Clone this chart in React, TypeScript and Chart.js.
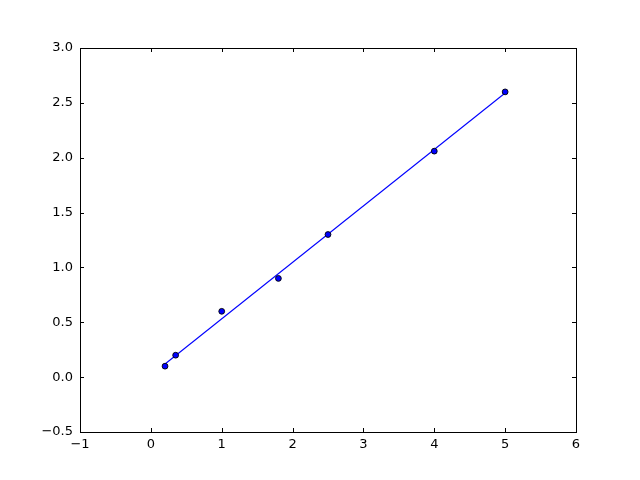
import React, { useEffect, useRef } from "react";
import { Chart, registerables } from "chart.js";

Chart.register(...registerables);

const pointX = [0.2, 0.35, 1, 1.8, 2.5, 4, 5];
const pointY = [0.1, 0.2, 0.6, 0.9, 1.3, 2.06, 2.6];
const fitX = [0.2, 5];
const fitY = [0.12, 2.59];
const xTicks = [-1, 0, 1, 2, 3, 4, 5, 6];
const yTicks = [-0.5, 0, 0.5, 1, 1.5, 2, 2.5, 3];

const FONT = "'DejaVu Sans', sans-serif";

const fmtX = (v: number) => String(v).replace("-", "\u2212");
const fmtY = (v: number) => v.toFixed(1).replace("-", "\u2212");

const boxPlugin = {
  id: "mplBox",
  afterDraw(chart: any) {
    const { ctx, chartArea, scales } = chart;
    const { left, right, top, bottom } = chartArea;
    const tl = 4;
    ctx.save();
    ctx.strokeStyle = "#000";
    ctx.lineWidth = 1;
    ctx.beginPath();
    for (const v of xTicks) {
      const px = Math.round(scales.x.getPixelForValue(v)) + 0.5;
      ctx.moveTo(px, bottom);
      ctx.lineTo(px, bottom - tl);
      ctx.moveTo(px, top);
      ctx.lineTo(px, top + tl);
    }
    for (const v of yTicks) {
      const py = Math.round(scales.y.getPixelForValue(v)) + 0.5;
      ctx.moveTo(left, py);
      ctx.lineTo(left + tl, py);
      ctx.moveTo(right, py);
      ctx.lineTo(right - tl, py);
    }
    ctx.stroke();
    ctx.strokeRect(Math.round(left) + 0.5, Math.round(top) + 0.5, Math.round(right - left), Math.round(bottom - top));
    ctx.restore();
  },
};

export default function App() {
  const ref = useRef<HTMLCanvasElement>(null);
  useEffect(() => {
    const canvas = ref.current!;
    const chart = new Chart(canvas, {
      type: "scatter",
      data: {
        datasets: [
          {
            type: "line",
            data: fitX.map((x, i) => ({ x, y: fitY[i] })),
            borderColor: "#0000ff",
            borderWidth: 1.1,
            pointRadius: 0,
            fill: false,
            order: 2,
          } as any,
          {
            data: pointX.map((x, i) => ({ x, y: pointY[i] })),
            backgroundColor: "#0000ff",
            borderColor: "#000000",
            borderWidth: 0.9,
            pointRadius: 2.9,
            order: 1,
          },
        ],
      },
      options: {
        animation: false,
        responsive: false,
        maintainAspectRatio: false,
        layout: { padding: { left: 0, right: 64, top: 48, bottom: 0 } },
        plugins: { legend: { display: false }, tooltip: { enabled: false } },
        scales: {
          x: {
            type: "linear",
            min: -1,
            max: 6,
            afterFit: (s: any) => {
              s.height = 48;
            },
            afterBuildTicks: (s: any) => {
              s.ticks = xTicks.map((v) => ({ value: v }));
            },
            grid: { display: false, drawTicks: false },
            border: { display: false },
            ticks: {
              color: "#000",
              font: { family: FONT, size: 13 },
              padding: 5,
              maxRotation: 0,
              callback: (v: any) => fmtX(Number(v)),
            },
          },
          y: {
            type: "linear",
            min: -0.5,
            max: 3,
            afterFit: (s: any) => {
              s.width = 80;
            },
            afterBuildTicks: (s: any) => {
              s.ticks = yTicks.map((v) => ({ value: v }));
            },
            grid: { display: false, drawTicks: false },
            border: { display: false },
            ticks: {
              color: "#000",
              font: { family: FONT, size: 13 },
              padding: 7,
              callback: (v: any) => fmtY(Number(v)),
            },
          },
        },
      },
      plugins: [boxPlugin],
    });
    return () => chart.destroy();
  }, []);
  return (
    <div style={{ position: "fixed", left: 0, top: 0, width: 640, height: 480, background: "#fff" }}>
      <canvas ref={ref} width={640} height={480} style={{ width: 640, height: 480 }} />
    </div>
  );
}
